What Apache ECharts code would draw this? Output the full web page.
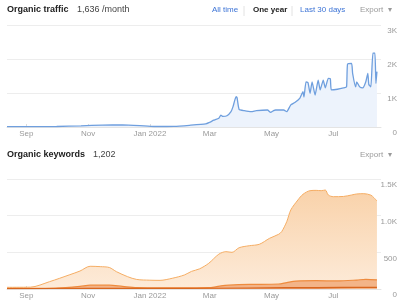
<!DOCTYPE html>
<html>
<head>
<meta charset="utf-8">
<script src="https://cdn.jsdelivr.net/npm/echarts@6/dist/echarts.min.js"></script>
<style>
  html, body { margin: 0; padding: 0; background: #fff; }
  #main { width: 400px; height: 300px; }
</style>
</head>
<body>
<div id="main"></div>
<script>
// axis range and ticks
var axisStart = "2021-08-13";
var axisEnd = "2022-08-17";
var monthTicks = ["2021-09-01", "2021-11-01", "2022-01-01", "2022-03-01", "2022-05-01", "2022-07-01"];
var monthLabels = ["Sep", "Nov", "Jan 2022", "Mar", "May", "Jul"];

// organic traffic
var trafficDates = [
  "2021-08-13", "2021-09-01", "2021-10-01", "2021-10-25", "2021-11-15", "2021-12-05", "2021-12-22",
  "2022-01-05", "2022-01-25", "2022-02-09", "2022-02-25", "2022-03-01", "2022-03-05", "2022-03-10",
  "2022-03-12", "2022-03-14", "2022-03-18", "2022-03-22", "2022-03-24", "2022-03-27", "2022-03-28",
  "2022-03-30", "2022-04-04", "2022-04-11", "2022-04-16", "2022-04-27", "2022-04-30", "2022-05-03",
  "2022-05-05", "2022-05-13", "2022-05-16", "2022-05-20", "2022-05-24", "2022-05-29", "2022-06-01",
  "2022-06-02", "2022-06-04", "2022-06-06", "2022-06-08", "2022-06-10", "2022-06-13", "2022-06-16",
  "2022-06-18", "2022-06-21", "2022-06-23", "2022-06-26", "2022-06-28", "2022-06-29", "2022-07-05",
  "2022-07-11", "2022-07-14", "2022-07-15", "2022-07-19", "2022-07-20", "2022-07-23", "2022-07-24",
  "2022-07-27", "2022-07-30", "2022-08-02", "2022-08-04", "2022-08-05", "2022-08-07", "2022-08-09",
  "2022-08-11", "2022-08-12", "2022-08-13"
];
var trafficValues = [
  10, 10, 15, 35, 55, 60, 40,
  15, 20, 50, 90, 140, 200, 260,
  350, 310, 330, 450, 600, 890, 860,
  520, 480, 450, 480, 500, 430, 480,
  500, 500, 450, 650, 720, 850, 1040,
  880, 1330, 1300, 990, 1330, 940, 1380,
  1090, 1380, 1150, 1430, 1420, 1090, 1110,
  1150, 1180, 1850, 1870, 1580, 1180, 1330,
  1180, 1150, 1330, 1580, 1250, 1180, 2170,
  2170, 1280, 1630
];

// organic keywords (cumulative outlines as seen)
var kwAllDates = [
  "2021-08-13", "2021-09-05", "2021-09-24", "2021-10-14", "2021-10-24", "2021-11-03", "2021-11-13",
  "2021-11-22", "2021-11-29", "2021-12-10", "2021-12-19", "2022-01-01", "2022-01-11", "2022-01-23",
  "2022-02-04", "2022-02-11", "2022-02-19", "2022-02-28", "2022-03-10", "2022-03-17", "2022-03-23",
  "2022-03-30", "2022-04-09", "2022-04-19", "2022-04-29", "2022-05-08", "2022-05-11", "2022-05-16",
  "2022-05-20", "2022-05-27", "2022-06-01", "2022-06-08", "2022-06-14", "2022-06-19", "2022-06-23",
  "2022-06-26", "2022-07-01", "2022-07-11", "2022-07-19", "2022-07-24", "2022-07-31", "2022-08-07",
  "2022-08-10", "2022-08-13"
];
var kwAllValues = [
  23, 25, 100, 195, 245, 310, 305,
  293, 236, 168, 130, 120, 118, 146,
  191, 240, 275, 350, 475, 509, 500,
  563, 590, 610, 691, 746, 782, 918,
  1078, 1214, 1291, 1341, 1345, 1341, 1350,
  1282, 1259, 1262, 1282, 1296, 1300, 1280,
  1245, 1200
];
var kwMidDates = [
  "2021-08-13", "2021-09-20", "2021-10-10", "2021-10-24", "2021-11-03", "2021-11-22", "2021-12-05",
  "2021-12-19", "2022-01-15", "2022-02-28", "2022-03-07", "2022-03-12", "2022-03-20", "2022-04-09",
  "2022-05-08", "2022-05-16", "2022-05-25", "2022-06-14", "2022-07-05", "2022-07-24", "2022-08-02",
  "2022-08-13"
];
var kwMidValues = [
  8, 10, 20, 35, 52, 52, 35,
  18, 15, 18, 30, 42, 52, 62,
  68, 88, 108, 114, 110, 122, 132,
  124
];
var kwTopDates = ["2021-08-13", "2021-11-01", "2022-01-15", "2022-03-01", "2022-05-15", "2022-06-15", "2022-08-13"];
var kwTopValues = [5, 8, 8, 10, 18, 20, 22];

function ts(d) { return Date.UTC(+d.slice(0, 4), +d.slice(5, 7) - 1, +d.slice(8, 10)); }
function pairs(dates, values) {
  return dates.map(function (d, i) { return [ts(d), values[i]]; });
}
var tickTimes = monthTicks.map(ts);

function makeXAxis(gridIndex) {
  return {
    type: "value",
    gridIndex: gridIndex,
    min: ts(axisStart),
    max: ts(axisEnd),
    axisLine: { lineStyle: { color: "#e4e4e4" } },
    axisTick: { inside: true, length: 3, lineStyle: { color: "#dcdcdc" }, customValues: tickTimes },
    splitLine: { show: false },
    axisLabel: {
      customValues: tickTimes,
      color: "#9a9a9a",
      fontSize: 8,
      margin: 3,
      formatter: function (v) {
        var idx = tickTimes.indexOf(+v);
        return idx >= 0 ? monthLabels[idx] : "";
      }
    }
  };
}

function makeYAxis(gridIndex, max, interval, fmt) {
  return {
    type: "value",
    gridIndex: gridIndex,
    position: "right",
    min: 0,
    max: max,
    interval: interval,
    axisLine: { show: false },
    axisTick: { show: false },
    splitLine: { lineStyle: { color: "#ededed" } },
    axisLabel: {
      color: "#9a9a9a",
      fontSize: 8,
      align: "right",
      margin: 16,
      verticalAlign: "top",
      padding: [2, 0, 0, 0],
      formatter: fmt
    }
  };
}

var chart = echarts.init(document.getElementById("main"));
var font = "Liberation Sans, Arial, Helvetica, sans-serif";

chart.setOption({
  animation: false,
  textStyle: { fontFamily: font },
  grid: [
    { left: 7, right: 18, top: 25, height: 102 },
    { left: 7, right: 18, top: 179, height: 110 }
  ],
  xAxis: [makeXAxis(0), makeXAxis(1)],
  yAxis: [
    makeYAxis(0, 3000, 1000, function (v) { return v === 0 ? "0" : v / 1000 + "K"; }),
    makeYAxis(1, 1500, 500, function (v) {
      return v === 0 ? "0" : v < 1000 ? String(v) : (v / 1000).toFixed(1) + "K";
    })
  ],
  series: [
    {
      name: "Organic traffic",
      type: "line",
      xAxisIndex: 0,
      yAxisIndex: 0,
      data: pairs(trafficDates, trafficValues),
      showSymbol: false,
      smooth: 0.15,
      lineStyle: { color: "#6f9fde", width: 1.3 },
      areaStyle: { color: "#edf3fc", opacity: 1 }
    },
    {
      name: "All",
      type: "line",
      xAxisIndex: 1,
      yAxisIndex: 1,
      data: pairs(kwAllDates, kwAllValues),
      showSymbol: false,
      smooth: 0.3,
      lineStyle: { color: "#f5ad64", width: 1 },
      areaStyle: {
        opacity: 1,
        color: new echarts.graphic.LinearGradient(0, 0, 0, 1, [
          { offset: 0, color: "#f9d2aa" },
          { offset: 1, color: "#fdebd9" }
        ])
      }
    },
    {
      name: "Mid",
      type: "line",
      xAxisIndex: 1,
      yAxisIndex: 1,
      data: pairs(kwMidDates, kwMidValues),
      showSymbol: false,
      smooth: 0.3,
      lineStyle: { color: "#ee8b3e", width: 1.2 },
      areaStyle: { color: "#f3b488", opacity: 1 }
    },
    {
      name: "Top",
      type: "line",
      xAxisIndex: 1,
      yAxisIndex: 1,
      data: pairs(kwTopDates, kwTopValues),
      showSymbol: false,
      smooth: 0.3,
      lineStyle: { color: "#d8661f", width: 1.2 },
      areaStyle: { color: "#e89460", opacity: 1 }
    }
  ],
  graphic: [
    { type: "text", left: 7, top: 5, style: { text: "Organic traffic", font: "bold 9px " + font, fill: "#222" } },
    { type: "text", left: 77, top: 5, style: { text: "1,636 /month", font: "9px " + font, fill: "#444" } },
    { type: "text", left: 212, top: 6, style: { text: "All time", font: "8px " + font, fill: "#3d74d6" } },
    { type: "line", shape: { x1: 244, y1: 6, x2: 244, y2: 16 }, style: { stroke: "#e2e2e2", lineWidth: 1 } },
    { type: "text", left: 253, top: 6, style: { text: "One year", font: "bold 8px " + font, fill: "#222" } },
    { type: "line", shape: { x1: 292, y1: 6, x2: 292, y2: 16 }, style: { stroke: "#e2e2e2", lineWidth: 1 } },
    { type: "text", left: 300, top: 6, style: { text: "Last 30 days", font: "8px " + font, fill: "#3d74d6" } },
    { type: "text", left: 360, top: 6, style: { text: "Export  \u25BE", font: "8px " + font, fill: "#9a9a9a" } },
    { type: "text", left: 7, top: 150, style: { text: "Organic keywords", font: "bold 9px " + font, fill: "#222" } },
    { type: "text", left: 93, top: 150, style: { text: "1,202", font: "9px " + font, fill: "#444" } },
    { type: "text", left: 360, top: 151, style: { text: "Export  \u25BE", font: "8px " + font, fill: "#9a9a9a" } }
  ]
});
</script>
</body>
</html>
